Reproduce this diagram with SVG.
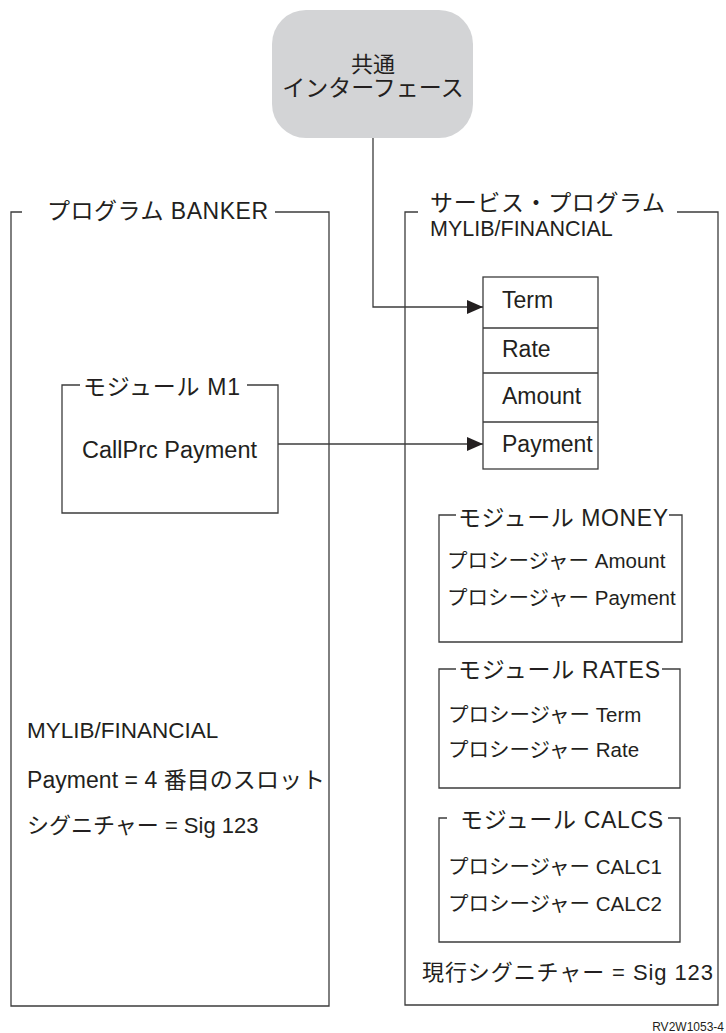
<svg xmlns="http://www.w3.org/2000/svg" width="726" height="1033" viewBox="0 0 726 1033">
<style>
text{font-family:"Liberation Sans","Noto Sans CJK JP",sans-serif;fill:#231f20;font-size:22px}
.t{font-size:23px}
.it{font-size:20.5px}
.ln{stroke:#3c3c3c;stroke-width:1.3;fill:none}
.bx{stroke:#3c3c3c;stroke-width:1.3;fill:none}
</style>
<defs>
<marker id="ah" markerWidth="16" markerHeight="14" refX="16" refY="7" orient="auto" markerUnits="userSpaceOnUse">
<path d="M0,0 L16,7 L0,14 Z" fill="#231f20"/>
</marker>
</defs>
<rect width="726" height="1033" fill="#fff"/>

<g id="interface">
<rect x="272" y="10" width="201" height="128" rx="34" ry="34" fill="#d3d4d6"/>
<text x="373" y="72" text-anchor="middle">共通</text>
<text class="t" x="373" y="96" text-anchor="middle">インターフェース</text>
</g>

<g id="banker">
<path class="bx" d="M22,212 H11 V1006 H329 V212 H275"/>
<text class="t" x="47" y="219" textLength="221">プログラム BANKER</text>
<text x="27" y="738" style="font-size:22.5px">MYLIB/FINANCIAL</text>
<text class="t" x="27" y="788" textLength="298">Payment = 4  番目のスロット</text>
<text x="27" y="833">シグニチャー = Sig 123</text>
</g>

<g id="m1">
<path class="bx" d="M80,385 H62 V513 H278 V385 H247"/>
<text class="t" x="83" y="395" textLength="157">モジュール M1</text>
<text x="82" y="458" style="font-size:23.5px">CallPrc Payment</text>
</g>

<g id="service">
<path class="bx" d="M418,212 H405 V1005 H718 V212 H677"/>
<text class="t" x="430" y="211" textLength="235">サービス・プログラム</text>
<text x="430" y="236" style="font-size:21.5px">MYLIB/FINANCIAL</text>
<text x="422" y="980" textLength="291">現行シグニチャー = Sig 123</text>
</g>

<g id="slots">
<rect class="bx" x="483" y="277" width="115" height="192"/>
<path class="ln" d="M483,328 H598 M483,373 H598 M483,422 H598"/>
<text class="t" x="502" y="308">Term</text>
<text class="t" x="502" y="357">Rate</text>
<text class="t" x="502" y="404">Amount</text>
<text class="t" x="502" y="452">Payment</text>
</g>

<g id="money">
<path class="bx" d="M456,515 H439 V642 H682 V515 H669"/>
<text class="t" x="458" y="526" textLength="210">モジュール MONEY</text>
<text class="it" x="447" y="568">プロシージャー Amount</text>
<text class="it" x="447" y="605">プロシージャー Payment</text>
</g>

<g id="rates">
<path class="bx" d="M456,669 H439 V788 H680 V669 H662"/>
<text class="t" x="458" y="678" textLength="202">モジュール RATES</text>
<text class="it" x="448" y="722">プロシージャー Term</text>
<text class="it" x="448" y="757">プロシージャー Rate</text>
</g>

<g id="calcs">
<path class="bx" d="M447,818 H439 V942 H680 V818 H668"/>
<text class="t" x="460" y="828" textLength="203">モジュール CALCS</text>
<text class="it" x="448" y="874">プロシージャー CALC1</text>
<text class="it" x="448" y="911">プロシージャー CALC2</text>
</g>

<g id="connectors">
<path class="ln" d="M373,138 V307 H483" marker-end="url(#ah)"/>
<path class="ln" d="M278,444 H483" marker-end="url(#ah)"/>
</g>

<text x="724" y="1031" text-anchor="end" style="font-size:12px">RV2W1053-4</text>
</svg>
